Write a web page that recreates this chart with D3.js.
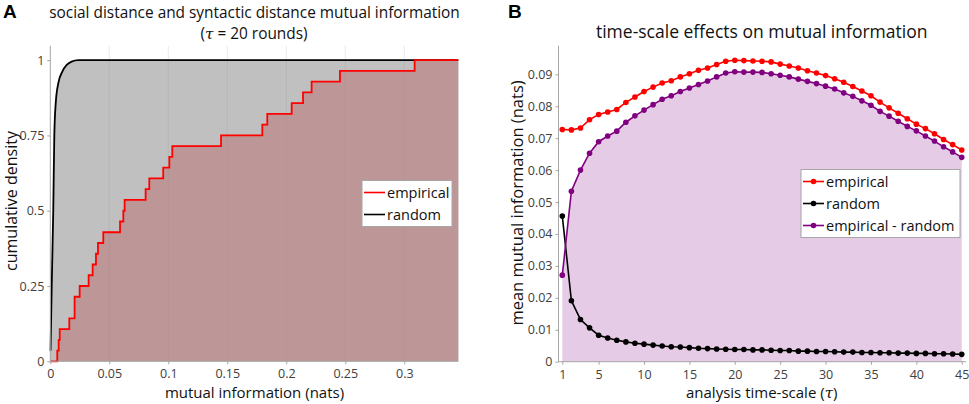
<!DOCTYPE html>
<html>
<head>
<meta charset="utf-8">
<script src="https://cdn.jsdelivr.net/npm/d3@7"></script>
<style>
	body { margin: 0; background: #fff; }
	text { font-family: 'Open Sans', sans-serif; }
</style>
</head>
<body>
<div id="canvas"></div>
<script>
// Data, panel A: sorted empirical MI values (28 pairs), random CDF
const empiricalMI = [0.0059, 0.0071, 0.0080, 0.0161, 0.0206, 0.0206, 0.0249, 0.0325, 0.0359, 0.0387,
	0.0404, 0.0449, 0.0591, 0.0619, 0.0630, 0.0808, 0.0839, 0.0957, 0.1009, 0.1034,
	0.1447, 0.1797, 0.1839, 0.2046, 0.2142, 0.2215, 0.2455, 0.3088]
const randomCdfX = [0.0002, 0.0012, 0.0025, 0.0034, 0.0046, 0.0068, 0.0102, 0.0139, 0.0180, 0.0237]
const randomCdfY = [0.035, 0.25, 0.5, 0.75, 0.857, 0.924, 0.962, 0.984, 0.995, 1.0]
const ticksAX = [0, 0.05, 0.1, 0.15, 0.2, 0.25, 0.3]
const ticksAY = [0, 0.25, 0.5, 0.75, 1]

// Data, panel B: tau 1..45
const tau = d3.range(1, 46)
const empiricalMean = [0.0727, 0.0726, 0.0732, 0.0758, 0.0774, 0.0782, 0.0790, 0.0812, 0.0829, 0.0846,
	0.0860, 0.0873, 0.0880, 0.0892, 0.0902, 0.0913, 0.0920, 0.0931, 0.0941, 0.0944,
	0.0943, 0.0942, 0.0941, 0.0939, 0.0932, 0.0926, 0.0920, 0.0911, 0.0904, 0.0896,
	0.0886, 0.0875, 0.0862, 0.0848, 0.0833, 0.0813, 0.0795, 0.0778, 0.0761, 0.0744,
	0.0730, 0.0714, 0.0696, 0.0680, 0.0663]
const randomMean = [0.0456, 0.0191, 0.0132, 0.0106, 0.0083, 0.0074, 0.0067, 0.0062, 0.0058, 0.0055,
	0.0052, 0.0049, 0.0047, 0.0046, 0.0044, 0.0042, 0.0041, 0.0040, 0.0039, 0.0038,
	0.0038, 0.0037, 0.0037, 0.0036, 0.0035, 0.0035, 0.0033, 0.0033, 0.0032, 0.0032,
	0.0031, 0.0030, 0.0030, 0.0029, 0.0029, 0.0028, 0.0028, 0.0027, 0.0027, 0.0026,
	0.0026, 0.0025, 0.0025, 0.0024, 0.0023]
const diffMean = [0.0271, 0.0534, 0.0600, 0.0653, 0.0689, 0.0707, 0.0722, 0.0750, 0.0770, 0.0788,
	0.0805, 0.0822, 0.0833, 0.0846, 0.0857, 0.0868, 0.0879, 0.0892, 0.0904, 0.0908,
	0.0907, 0.0907, 0.0906, 0.0902, 0.0897, 0.0892, 0.0885, 0.0878, 0.0871, 0.0863,
	0.0854, 0.0842, 0.0831, 0.0817, 0.0803, 0.0784, 0.0769, 0.0753, 0.0737, 0.0723,
	0.0707, 0.0691, 0.0673, 0.0657, 0.0640]
const ticksBX = [1, 5, 10, 15, 20, 25, 30, 35, 40, 45]
const ticksBY = [0, 0.01, 0.02, 0.03, 0.04, 0.05, 0.06, 0.07, 0.08, 0.09]

const colors = {
	axis: '#a6a6a6',
	grid: '#8c8c8c',
	tick: '#404040',
	greyFill: '#c0c0c0',
	redFill: '#bd9797',
	purpleFill: '#e5cbe6',
	red: '#ff0000',
	black: '#000000',
	purple: '#800080',
}

const width = 969, height = 404
const svg = d3.select('#canvas').append('svg').attr('width', width).attr('height', height)
	.style('background-color', '#fff')

// ---------- Panel A ----------
const xMaxA = 0.3458
const xA = d3.scaleLinear().domain([0, xMaxA]).range([50.3, 458.3])
const yA = d3.scaleLinear().domain([0, 1.048]).range([361.3, 45.7])

const ecdf = [[0, 0]].concat(empiricalMI.map((v, i) => [v, (i + 1) / empiricalMI.length]))
ecdf.push([xMaxA, 1])
const randomCdf = randomCdfX.map((x, i) => [x, randomCdfY[i]])
randomCdf.push([xMaxA, 1])

const gA = svg.append('g')

gA.append('path')
	.attr('d', d3.area().curve(d3.curveMonotoneX).x(d => xA(d[0])).y0(yA(0)).y1(d => yA(d[1]))([[0, randomCdfY[0]]].concat(randomCdf)))
	.attr('fill', colors.greyFill)

gA.append('path')
	.attr('d', d3.area().curve(d3.curveStepAfter).x(d => xA(d[0])).y0(yA(0)).y1(d => yA(d[1]))(ecdf))
	.attr('fill', colors.redFill)

// vertical gridlines over the fills
gA.selectAll('.gridA').data(ticksAX.slice(1)).enter()
	.append('line')
	.attr('x1', d => xA(d)).attr('x2', d => xA(d))
	.attr('y1', yA.range()[1]).attr('y2', yA(0))
	.attr('stroke', colors.grid).attr('stroke-opacity', 0.18)

gA.append('path')
	.attr('d', d3.line().curve(d3.curveMonotoneX).x(d => xA(d[0])).y(d => yA(d[1]))(randomCdf))
	.attr('fill', 'none').attr('stroke', colors.black).attr('stroke-width', 1.8)

gA.append('path')
	.attr('d', d3.line().curve(d3.curveStepAfter).x(d => xA(d[0])).y(d => yA(d[1]))(ecdf))
	.attr('fill', 'none').attr('stroke', colors.red).attr('stroke-width', 1.8)

// axes
gA.append('g').attr('transform', `translate(0,${yA(0)})`)
	.call(d3.axisBottom(xA).tickValues(ticksAX).tickFormat(d3.format('~g')).tickSize(3).tickPadding(5))
	.call(g => g.select('.domain').attr('stroke', colors.axis).attr('d', `M${xA(0)},0H${xA(xMaxA)}`))
gA.append('g').attr('transform', `translate(${xA(0)},0)`)
	.call(d3.axisLeft(yA).tickValues(ticksAY).tickFormat(d3.format('~g')).tickSize(3).tickPadding(3))
	.call(g => g.select('.domain').attr('stroke', colors.axis).attr('d', `M0,${yA.range()[1]}V${yA(0)}`))

// ---------- Panel B ----------
const xB = d3.scaleLinear().domain([0.58, 45.47]).range([558.5, 966])
const yB = d3.scaleLinear().domain([0, 0.099]).range([361.7, 45.6])
const gB = svg.append('g')

gB.append('path')
	.attr('d', d3.area().x((d, i) => xB(tau[i])).y0(yB(0)).y1(d => yB(d))(diffMean))
	.attr('fill', colors.purpleFill)

const seriesB = [
	{name: 'empirical', values: empiricalMean, color: colors.red},
	{name: 'random', values: randomMean, color: colors.black},
	{name: 'empirical - random', values: diffMean, color: colors.purple},
]

seriesB.forEach(s => {
	gB.append('path')
		.attr('d', d3.line().x((d, i) => xB(tau[i])).y(d => yB(d))(s.values))
		.attr('fill', 'none').attr('stroke', s.color).attr('stroke-width', 1.6)
	gB.selectAll(null).data(s.values).enter()
		.append('circle')
		.attr('cx', (d, i) => xB(tau[i])).attr('cy', d => yB(d))
		.attr('r', 2.8).attr('fill', s.color)
})

gB.append('g').attr('transform', `translate(0,${yB(0)})`)
	.call(d3.axisBottom(xB).tickValues(ticksBX).tickSize(3).tickPadding(5))
	.call(g => g.select('.domain').attr('stroke', colors.axis).attr('d', `M${xB.range()[0]},0H${xB.range()[1]}`))
gB.append('g').attr('transform', `translate(${xB.range()[0]},0)`)
	.call(d3.axisLeft(yB).tickValues(ticksBY).tickFormat(d3.format('~g')).tickSize(3).tickPadding(3))
	.call(g => g.select('.domain').attr('stroke', colors.axis).attr('d', `M0,${yB.range()[1]}V${yB(0)}`))

// tick styling
svg.selectAll('.tick line').attr('stroke', colors.axis)
svg.selectAll('.tick text').attr('fill', colors.tick).style('font-size', '12.5px').style('font-family', "'Open Sans', sans-serif")

// ---------- Legends ----------
function drawLegend(x, y, w, h, items, withMarker) {
	const lg = svg.append('g').attr('transform', `translate(${x},${y})`)
	lg.append('rect').attr('width', w).attr('height', h)
		.attr('fill', '#fff').attr('stroke', '#a6a6a6').attr('stroke-width', 1)
	items.forEach((it, i) => {
		const cy = 12 + i * 22
		lg.append('line').attr('x1', 2).attr('x2', 23).attr('y1', cy).attr('y2', cy)
			.attr('stroke', it.color).attr('stroke-width', 1.6)
		if (withMarker) lg.append('circle').attr('cx', 12.5).attr('cy', cy).attr('r', 2.8).attr('fill', it.color)
		lg.append('text').attr('x', 25).attr('y', cy).attr('dy', '0.35em')
			.style('font-size', '14.5px').attr('fill', '#111').text(it.name)
	})
}
drawLegend(362, 180.5, 90, 46, [{name: 'empirical', color: colors.red}, {name: 'random', color: colors.black}], false)
drawLegend(801, 169.5, 159, 68, seriesB, true)

// ---------- Titles and labels ----------
const textColor = '#111'
svg.append('text').attr('x', 254.5).attr('y', 17.5).attr('text-anchor', 'middle')
	.style('font-size', '15.4px').attr('fill', textColor)
	.text('social distance and syntactic distance mutual information')
const sub = svg.append('text').attr('x', 254).attr('y', 38.5).attr('text-anchor', 'middle')
	.style('font-size', '15.4px').attr('fill', textColor)
sub.append('tspan').text('(')
sub.append('tspan').style('font-style', 'italic').style('font-family', "'DejaVu Serif', serif").text('τ')
sub.append('tspan').text(' = 20 rounds)')

svg.append('text').attr('x', 761.7).attr('y', 37.5).attr('text-anchor', 'middle')
	.style('font-size', '17.5px').attr('fill', textColor)
	.text('time-scale effects on mutual information')

svg.append('text').attr('x', 254.5).attr('y', 398).attr('text-anchor', 'middle')
	.style('font-size', '15px').attr('fill', textColor).text('mutual information (nats)')
const xlB = svg.append('text').attr('x', 761.7).attr('y', 398).attr('text-anchor', 'middle')
	.style('font-size', '15px').attr('fill', textColor)
xlB.append('tspan').text('analysis time-scale (')
xlB.append('tspan').style('font-style', 'italic').style('font-family', "'DejaVu Serif', serif").text('τ')
xlB.append('tspan').text(')')

svg.append('text').attr('transform', 'translate(16.5,201) rotate(-90)').attr('text-anchor', 'middle')
	.style('font-size', '16px').attr('fill', textColor).text('cumulative density')
svg.append('text').attr('transform', 'translate(523,203) rotate(-90)').attr('text-anchor', 'middle')
	.style('font-size', '16.5px').attr('fill', textColor).text('mean mutual information (nats)')

// panel letters
svg.append('text').attr('x', 3).attr('y', 17.5).style('font-family', "'Liberation Sans', Arial, sans-serif")
	.style('font-weight', 'bold').style('font-size', '19px').attr('fill', '#000').text('A')
svg.append('text').attr('x', 508).attr('y', 17.5).style('font-family', "'Liberation Sans', Arial, sans-serif")
	.style('font-weight', 'bold').style('font-size', '19px').attr('fill', '#000').text('B')
</script>
</body>
</html>
